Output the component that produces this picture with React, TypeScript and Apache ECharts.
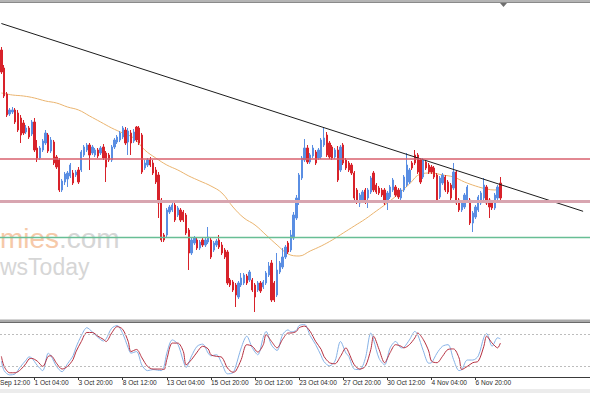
import React, { useEffect, useRef } from "react";
import * as echarts from "echarts";

// ---- data (4H bars, price scale hidden) ----
const opens = [112.70,112.52,112.26,112.06,112.08,112.10,112.07,112.02,111.97,111.88,111.92,111.86,111.98,111.72,111.62,111.70,111.77,111.85,111.69,111.78,111.63,111.60,111.30,111.38,111.41,111.44,111.47,111.45,111.50,111.50,111.65,111.70,111.75,111.67,111.65,111.70,111.67,111.73,111.67,111.65,111.60,111.73,111.78,111.80,111.83,111.90,111.78,111.87,111.79,111.93,111.92,111.85,111.52,111.55,111.60,111.57,111.50,111.45,111.20,110.85,110.85,111.08,111.10,111.15,111.05,111.10,111.08,111.05,110.90,110.67,110.77,110.80,110.72,110.80,110.75,110.78,110.80,110.70,110.75,110.80,110.75,110.70,110.68,110.40,110.38,110.35,110.23,110.35,110.37,110.44,110.40,110.40,110.35,110.30,110.37,110.33,110.37,110.45,110.57,110.37,110.25,110.48,110.53,110.63,110.77,110.70,110.82,111.02,111.18,111.42,111.60,111.72,111.58,111.64,111.68,111.62,111.63,111.75,111.85,111.77,111.73,111.63,111.70,111.50,111.75,111.60,111.57,111.55,111.47,111.30,111.17,111.20,111.30,111.22,111.28,111.47,111.35,111.32,111.30,111.30,111.18,111.23,111.30,111.33,111.30,111.22,111.30,111.35,111.38,111.57,111.65,111.65,111.60,111.43,111.58,111.55,111.53,111.52,111.45,111.23,111.37,111.43,111.38,111.35,111.32,111.48,111.20,111.10,111.13,111.20,111.20,110.97,111.03,111.10,111.17,111.22,111.33,111.20,111.18,111.12,111.22,111.37];
const closes = [112.48,112.24,112.05,112.10,112.10,111.98,111.90,111.85,111.87,111.92,111.83,111.98,111.70,111.62,111.72,111.79,111.87,111.69,111.80,111.57,111.53,111.30,111.39,111.46,111.47,111.55,111.37,111.48,111.38,111.68,111.73,111.75,111.65,111.73,111.70,111.64,111.72,111.62,111.53,111.60,111.73,111.80,111.83,111.87,111.92,111.77,111.89,111.77,111.88,111.80,111.77,111.48,111.57,111.60,111.55,111.47,111.38,111.17,110.80,110.80,111.10,111.13,111.15,111.00,111.12,111.00,111.00,110.87,110.67,110.80,110.82,110.72,110.78,110.75,110.80,110.83,110.63,110.77,110.79,110.73,110.67,110.63,110.37,110.35,110.30,110.25,110.37,110.42,110.45,110.37,110.48,110.30,110.23,110.37,110.29,110.38,110.47,110.54,110.20,110.20,110.50,110.57,110.63,110.73,110.68,110.85,111.05,111.22,111.45,111.62,111.72,111.58,111.65,111.72,111.57,111.70,111.80,111.82,111.65,111.63,111.62,111.70,111.40,111.73,111.57,111.52,111.50,111.47,111.22,111.18,111.25,111.28,111.18,111.30,111.42,111.30,111.28,111.27,111.25,111.17,111.27,111.33,111.40,111.25,111.23,111.30,111.43,111.55,111.50,111.52,111.57,111.48,111.38,111.60,111.52,111.48,111.48,111.43,111.20,111.42,111.45,111.30,111.28,111.22,111.48,111.17,111.10,111.17,111.25,111.33,110.97,111.07,111.13,111.23,111.27,111.35,111.17,111.13,111.12,111.25,111.33,111.22];
const lows = [112.46,112.22,112.03,112.04,112.06,111.96,111.88,111.77,111.85,111.86,111.81,111.84,111.68,111.58,111.60,111.68,111.75,111.67,111.67,111.55,111.51,111.28,111.28,111.35,111.33,111.42,111.35,111.43,111.36,111.48,111.63,111.68,111.50,111.65,111.63,111.62,111.65,111.60,111.38,111.58,111.58,111.71,111.76,111.78,111.81,111.75,111.65,111.65,111.77,111.78,111.75,111.46,111.50,111.53,111.53,111.45,111.36,111.02,110.78,110.78,110.83,111.06,111.08,110.98,111.03,110.98,110.98,110.85,110.50,110.65,110.75,110.70,110.70,110.73,110.73,110.76,110.61,110.68,110.73,110.71,110.65,110.61,110.35,110.33,110.28,110.13,110.21,110.33,110.35,110.35,110.38,110.28,110.08,110.28,110.27,110.31,110.35,110.43,110.18,110.18,110.23,110.46,110.51,110.61,110.66,110.68,110.80,111.00,111.15,111.40,111.58,111.56,111.56,111.62,111.55,111.60,111.61,111.73,111.63,111.61,111.60,111.61,111.38,111.48,111.55,111.50,111.48,111.45,111.20,111.16,111.13,111.18,111.16,111.12,111.26,111.28,111.26,111.25,111.23,111.15,111.10,111.21,111.28,111.23,111.21,111.18,111.28,111.33,111.36,111.50,111.55,111.46,111.36,111.41,111.50,111.46,111.46,111.41,111.18,111.21,111.35,111.28,111.26,111.20,111.30,111.15,111.08,111.08,111.11,111.18,110.95,110.88,111.01,111.08,111.15,111.20,111.15,111.02,111.10,111.10,111.20,111.20];
const highs = [112.73,112.55,112.28,112.12,112.13,112.12,112.10,112.05,112.00,111.95,111.94,112.00,112.02,111.80,111.74,111.81,111.90,111.87,111.83,111.80,111.65,111.62,111.41,111.48,111.49,111.57,111.50,111.50,111.53,111.70,111.75,111.77,111.77,111.75,111.72,111.72,111.74,111.76,111.69,111.67,111.75,111.82,111.85,111.89,111.94,111.93,111.92,111.90,111.91,111.94,111.94,111.87,111.60,111.62,111.63,111.60,111.53,111.48,111.22,110.87,111.12,111.15,111.17,111.17,111.14,111.12,111.10,111.07,110.92,110.82,110.84,110.82,110.80,110.82,110.82,110.93,110.82,110.79,110.81,110.85,110.78,110.72,110.70,110.42,110.40,110.37,110.39,110.47,110.47,110.46,110.50,110.42,110.37,110.39,110.39,110.40,110.49,110.58,110.60,110.39,110.67,110.59,110.72,110.75,110.79,110.90,111.08,111.25,111.47,111.64,111.81,111.75,111.67,111.75,111.70,111.72,111.82,111.92,111.88,111.79,111.75,111.72,111.74,111.75,111.77,111.62,111.59,111.57,111.49,111.32,111.27,111.30,111.32,111.32,111.44,111.49,111.37,111.34,111.32,111.32,111.29,111.35,111.42,111.35,111.32,111.32,111.45,111.67,111.52,111.59,111.70,111.67,111.62,111.62,111.60,111.57,111.55,111.54,111.47,111.44,111.47,111.45,111.40,111.37,111.57,111.50,111.22,111.19,111.27,111.35,111.22,111.09,111.15,111.25,111.29,111.42,111.35,111.22,111.20,111.27,111.35,111.43];

// moving average: [bar index, price]
const maLine = [[0,112.27],[4,112.25],[8,112.24],[12,112.22],[16,112.19],[20,112.17],[24,112.13],[28,112.10],[32,112.04],[36,111.98],[40,111.92],[44,111.87],[48,111.82],[52,111.70],[56,111.62],[60,111.55],[64,111.50],[68,111.44],[72,111.39],[76,111.34],[80,111.27],[84,111.13],[88,111.02],[92,110.95],[96,110.85],[100,110.75],[104,110.66],[108,110.64],[112,110.69],[116,110.74],[120,110.80],[124,110.87],[128,110.94],[132,111.01],[136,111.09],[140,111.17],[144,111.26],[148,111.36],[152,111.46],[156,111.47],[160,111.45],[164,111.43],[168,111.38],[172,111.34],[176,111.31],[179,111.30],[181,111.32]];

// descending trend line: [bar index, price]
const trendLine = [[0,112.965],[211,111.087]];

// horizontal levels
const resistanceLevel = 111.607;
const pivotLevel = 111.185;
const supportLevel = 110.828;

// stochastic oscillator (%K fast, %D slow): [bar index, value]
const stochK = [[0,30],[1,12],[3,4],[5,6],[7,20],[9,32],[10,38],[11,36],[13,22],[15,12],[17,45],[18,40],[20,20],[22,10],[24,25],[26,40],[27,55],[29,78],[31,93],[33,85],[35,75],[37,68],[38,72],[40,92],[42,97],[44,82],[46,55],[47,45],[49,48],[51,22],[53,12],[55,14],[58,12],[59,20],[60,45],[62,70],[64,62],[66,30],[67,18],[69,40],[71,58],[73,62],[75,45],[76,40],[78,42],[80,25],[82,6],[84,8],[85,20],[87,55],[89,77],[91,55],[93,42],[95,75],[96,86],[98,60],[100,50],[102,80],[104,89],[105,85],[107,88],[108,97],[110,99],[112,78],[114,61],[116,40],[117,29],[119,21],[121,30],[123,67],[125,45],[126,39],[128,15],[130,14],[132,35],[134,83],[135,70],[137,35],[139,23],[141,55],[143,67],[145,55],[146,56],[148,70],[150,86],[151,80],[153,50],[155,26],[156,27],[158,45],[160,58],[162,61],[164,33],[166,12],[167,14],[169,32],[171,32],[173,40],[175,75],[176,82],[178,58],[180,74],[181,72]];
const stochD = [[0,39],[1,20],[3,8],[5,8],[7,14],[9,26],[10,34],[11,35],[13,30],[15,20],[17,39],[18,40],[20,26],[22,15],[24,20],[26,33],[27,47],[29,67],[31,84],[33,84],[35,77],[37,71],[38,67],[40,83],[42,95],[44,90],[46,67],[47,48],[49,52],[51,36],[53,20],[55,15],[58,15],[59,14],[60,33],[62,64],[64,64],[66,48],[67,23],[69,33],[71,47],[73,58],[75,53],[76,42],[78,39],[80,37],[82,17],[84,9],[85,11],[87,33],[89,61],[91,58],[93,47],[95,61],[96,80],[98,67],[100,55],[102,71],[104,83],[105,83],[107,86],[108,93],[110,96],[112,86],[114,67],[116,52],[117,39],[119,27],[121,25],[123,39],[125,55],[126,46],[128,23],[130,15],[132,20],[134,52],[135,77],[137,52],[139,27],[141,46],[143,61],[145,58],[146,55],[148,61],[150,74],[151,83],[153,71],[155,49],[156,30],[158,27],[160,39],[162,52],[164,53],[166,36],[167,14],[169,20],[171,27],[173,30],[175,58],[176,77],[178,64],[180,55],[181,64]];
const stochLevels = [80, 20];

// time scale
const slotCount = 214; // visible bar slots incl. right-hand margin
const tickIndex = [12, 28, 44, 60, 76, 92, 108, 124, 140, 156, 172];
const tickLabels = ["1 Oct 04:00", "3 Oct 20:00", "8 Oct 12:00", "13 Oct 04:00", "15 Oct 20:00", "20 Oct 12:00", "23 Oct 04:00", "27 Oct 20:00", "30 Oct 12:00", "4 Nov 04:00", "6 Nov 20:00"];
const firstLabel = "Sep 12:00";

const BULL = "#5a8ee3";
const BEAR = "#d8222a";
const FONT = "Liberation Sans";

export default function App() {
  const ref = useRef<HTMLDivElement>(null);

  useEffect(() => {
    document.body.style.margin = "0";
    if (!ref.current) return;
    const chart = echarts.init(ref.current, null, { renderer: "svg" });
    const categories = Array.from({ length: slotCount }, (_, i) => String(i));
    const candles = opens.map((o, i) => [o, closes[i], lows[i], highs[i]]);
    const labelMap: Record<number, string> = {};
    tickIndex.forEach((t, k) => (labelMap[t] = tickLabels[k]));
    const isTick = (idx: number) => labelMap[idx] !== undefined;

    chart.setOption({
      animation: false,
      backgroundColor: "#ffffff",
      grid: [
        { left: 0, right: 0, top: 3, height: 316 },
        { left: 0, right: 0, top: 324, height: 53 },
      ],
      xAxis: [
        { type: "category", gridIndex: 0, data: categories, boundaryGap: true, show: false },
        {
          type: "category",
          gridIndex: 1,
          data: categories,
          boundaryGap: true,
          axisLine: { show: true, lineStyle: { color: "#3a3a3a", width: 1 } },
          axisTick: { show: true, alignWithLabel: true, interval: (i: number) => isTick(i), length: 3, lineStyle: { color: "#3a3a3a" } },
          axisLabel: {
            show: true,
            interval: (i: number) => isTick(i),
            formatter: (_v: string, i: number) => labelMap[i] || "",
            align: "left",
            margin: 2,
            fontSize: 6.6,
            fontFamily: FONT,
            color: "#2a2a2a",
          },
          splitLine: { show: false },
        },
      ],
      yAxis: [
        { type: "value", gridIndex: 0, min: 110.01, max: 113.17, show: false },
        { type: "value", gridIndex: 1, min: 0, max: 100, show: false },
      ],
      graphic: [
        { type: "rect", shape: { x: 0, y: 0, width: 590, height: 2.5 }, style: { fill: "#b4b4b4" } },
        { type: "line", shape: { x1: 0, y1: 2.5, x2: 590, y2: 2.5 }, style: { stroke: "#8a8a8a", lineWidth: 1 } },
        { type: "polygon", shape: { points: [[500, 3], [507, 3], [503.5, 7]] }, style: { fill: "#6e6e6e" } },
        { type: "rect", shape: { x: 0, y: 319.5, width: 590, height: 3 }, style: { fill: "#a9a9a9" } },
        { type: "line", shape: { x1: 0, y1: 322.5, x2: 590, y2: 322.5 }, style: { stroke: "#6a6a6a", lineWidth: 1 } },
        { type: "rect", shape: { x: 0, y: 389, width: 590, height: 4 }, style: { fill: "#ececec" } },
        { type: "text", x: 0, y: 238, style: { text: "mies", fontSize: 28, fontFamily: FONT, fill: "#f6c9a9", verticalAlign: "middle" } },
        { type: "text", x: 59, y: 238, style: { text: ".com", fontSize: 28, fontFamily: FONT, fill: "#d6d6d6", verticalAlign: "middle" } },
        { type: "text", x: 0, y: 267, style: { text: "wsToday", fontSize: 23, fontFamily: FONT, fill: "#d6d6d6", verticalAlign: "middle" } },
        { type: "text", x: 0, y: 382.5, style: { text: firstLabel, fontSize: 6.6, fontFamily: FONT, fill: "#2a2a2a", verticalAlign: "middle" } },
      ],
      series: [
        {
          type: "line",
          xAxisIndex: 0,
          yAxisIndex: 0,
          data: [],
          symbol: "none",
          z: 1,
          markLine: {
            silent: true,
            symbol: ["none", "none"],
            label: { show: false },
            data: [
              { yAxis: resistanceLevel, lineStyle: { color: "#d9606e", width: 1.6, type: "solid", opacity: 1 } },
              { yAxis: pivotLevel, lineStyle: { color: "#d8a5b0", width: 3, type: "solid", opacity: 1 } },
              { yAxis: supportLevel, lineStyle: { color: "#68be95", width: 1.4, type: "solid", opacity: 1 } },
            ],
          },
        },
        {
          type: "candlestick",
          xAxisIndex: 0,
          yAxisIndex: 0,
          data: candles,
          barWidth: 1.8,
          itemStyle: { color: BULL, color0: BEAR, borderColor: BULL, borderColor0: BEAR, borderWidth: 1 },
        },
        {
          type: "line",
          xAxisIndex: 0,
          yAxisIndex: 0,
          data: maLine,
          symbol: "none",
          smooth: 0.4,
          lineStyle: { color: "#eab46f", width: 1 },
          z: 1,
        },
        {
          type: "line",
          xAxisIndex: 0,
          yAxisIndex: 0,
          data: trendLine,
          symbol: "none",
          lineStyle: { color: "#1c1c1c", width: 1 },
        },
        {
          type: "line",
          xAxisIndex: 1,
          yAxisIndex: 1,
          data: stochK,
          symbol: "none",
          smooth: 0.3,
          lineStyle: { color: "#86b2e6", width: 1 },
        },
        {
          type: "line",
          xAxisIndex: 1,
          yAxisIndex: 1,
          data: stochD,
          symbol: "none",
          smooth: 0.3,
          lineStyle: { color: "#b53040", width: 1 },
          markLine: {
            silent: true,
            symbol: ["none", "none"],
            label: { show: false },
            lineStyle: { color: "#bdbdbd", width: 1, type: [2, 2] },
            data: stochLevels.map((v) => ({ yAxis: v })),
          },
        },
      ],
    });

    return () => chart.dispose();
  }, []);

  return <div ref={ref} style={{ position: "absolute", left: 0, top: 0, width: 590, height: 393 }} />;
}
